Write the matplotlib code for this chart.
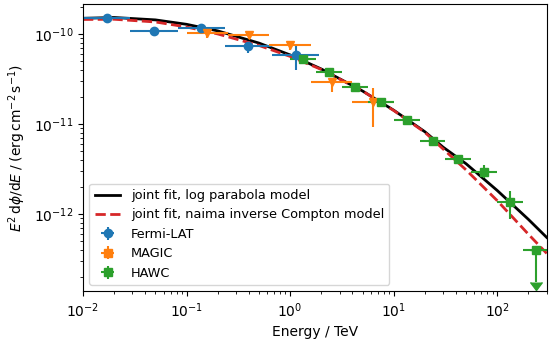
import numpy as np
import matplotlib
matplotlib.use("Agg")
import matplotlib.pyplot as plt

plt.rcParams["font.size"] = 10

# ---------------- model curves ----------------
model_energy = [0.01, 0.02, 0.05, 0.1, 0.2, 0.5, 1, 2, 5, 10, 20, 30, 50, 100, 200, 300]
logparabola_flux = [1.505e-10, 1.536e-10, 1.445e-10, 1.29e-10, 1.09e-10, 7.98e-11, 5.89e-11,
                    4.11e-11, 2.34e-11, 1.43e-11, 8.24e-12, 5.55e-12, 3.63e-12, 1.83e-12,
                    8.73e-13, 5.51e-13]
naima_ic_flux = [1.46e-10, 1.468e-10, 1.37e-10, 1.205e-10, 1.008e-10, 7.51e-11, 5.67e-11,
                 4.06e-11, 2.34e-11, 1.42e-11, 8.11e-12, 5.3e-12, 3.10e-12, 1.41e-12,
                 5.97e-13, 3.66e-13]

# ---------------- Fermi-LAT ----------------
fermi_e = [0.0169, 0.0484, 0.138, 0.396, 1.13]
fermi_e_lo = [0.01, 0.0286, 0.0818, 0.234, 0.669]
fermi_e_hi = [0.0286, 0.0818, 0.234, 0.669, 1.91]
fermi_f = [1.53e-10, 1.09e-10, 1.18e-10, 7.41e-11, 5.89e-11]
fermi_f_lo = [1.47e-10, 1.04e-10, 1.13e-10, 6.15e-11, 4.01e-11]
fermi_f_hi = [1.59e-10, 1.14e-10, 1.23e-10, 8.27e-11, 7.8e-11]

# ---------------- MAGIC ----------------
magic_e = [0.158, 0.398, 1.0, 2.51, 6.31]
magic_e_lo = [0.1, 0.251, 0.631, 1.585, 3.98]
magic_e_hi = [0.251, 0.631, 1.585, 3.98, 10.0]
magic_f = [1.03e-10, 9.8e-11, 7.6e-11, 2.97e-11, 1.78e-11]
magic_f_lo = [0.91e-10, 8.9e-11, 6.7e-11, 2.3e-11, 9.4e-12]
magic_f_hi = [1.10e-10, 1.05e-10, 8.2e-11, 3.24e-11, 2.51e-11]

# ---------------- HAWC ----------------
hawc_e = [1.33, 2.37, 4.22, 7.5, 13.3, 23.7, 42.2, 75, 133]
hawc_e_lo = [1.0, 1.78, 3.16, 5.62, 10.0, 17.8, 31.6, 56.2, 100]
hawc_e_hi = [1.78, 3.16, 5.62, 10.0, 17.8, 31.6, 56.2, 100, 178]
hawc_f = [5.27e-11, 3.78e-11, 2.58e-11, 1.78e-11, 1.12e-11, 6.52e-12, 4.08e-12, 2.97e-12, 1.35e-12]
hawc_f_lo = [4.9e-11, 3.5e-11, 2.4e-11, 1.65e-11, 1.03e-11, 6.0e-12, 3.75e-12, 2.52e-12, 8.9e-13]
hawc_f_hi = [5.65e-11, 4.05e-11, 2.76e-11, 1.92e-11, 1.21e-11, 7.05e-12, 4.4e-12, 3.54e-12, 1.79e-12]

# HAWC upper limit
hawc_ul_e = [237]
hawc_ul_e_lo = [178]
hawc_ul_e_hi = [316]
hawc_ul_f = [4.01e-13]
hawc_ul_arrow_to = [1.75e-13]


def xerr_of(e, lo, hi):
    e = np.array(e)
    return [e - np.array(lo), np.array(hi) - e]


def yerr_of(f, lo, hi):
    f = np.array(f)
    return [f - np.array(lo), np.array(hi) - f]


fig = plt.figure(figsize=(5.53, 3.42), dpi=100)
ax = fig.add_axes([0.1501, 0.1477, 0.8385, 0.8406])

ax.plot(model_energy, logparabola_flux, color="k", lw=2, label="joint fit, log parabola model")
ax.plot(model_energy, naima_ic_flux, color="C3", lw=2, ls="--",
        label="joint fit, naima inverse Compton model")

ax.errorbar(fermi_e, fermi_f, xerr=xerr_of(fermi_e, fermi_e_lo, fermi_e_hi),
            yerr=yerr_of(fermi_f, fermi_f_lo, fermi_f_hi),
            fmt="o", ms=6, color="C0", label="Fermi-LAT")

ax.errorbar(magic_e, magic_f, xerr=xerr_of(magic_e, magic_e_lo, magic_e_hi),
            yerr=yerr_of(magic_f, magic_f_lo, magic_f_hi),
            fmt="v", ms=6, color="C1")
# legend entry for MAGIC uses a square
ax.errorbar([], [], xerr=[], yerr=[], fmt="s", ms=6, color="C1", label="MAGIC")

ax.errorbar(hawc_e, hawc_f, xerr=xerr_of(hawc_e, hawc_e_lo, hawc_e_hi),
            yerr=yerr_of(hawc_f, hawc_f_lo, hawc_f_hi),
            fmt="s", ms=6, color="C2", label="HAWC")
# upper limit: horizontal bar + marker, then the downward arrow
ax.errorbar(hawc_ul_e, hawc_ul_f, xerr=xerr_of(hawc_ul_e, hawc_ul_e_lo, hawc_ul_e_hi),
            fmt="s", ms=6, color="C2")
ax.errorbar(hawc_ul_e, hawc_ul_f,
            yerr=np.array(hawc_ul_f) - np.array(hawc_ul_arrow_to), uplims=True,
            fmt="none", capsize=4, color="C2")

ax.set_xscale("log")
ax.set_yscale("log")
ax.set_xlim(0.01, 300)
ax.set_ylim(1.38e-13, 2.17e-10)
ax.set_xlabel("Energy / TeV")
ax.set_ylabel(r"$E^2\,\mathrm{d}\phi/\mathrm{d}E\;/\;(\mathrm{erg\,cm^{-2}\,s^{-1}})$")
ax.legend(loc="lower left", fontsize=9.3)

fig.savefig("out.png", dpi=100)
